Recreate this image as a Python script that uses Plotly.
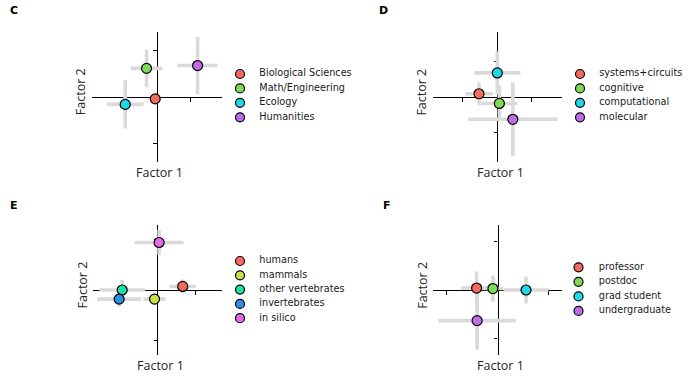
import plotly.graph_objects as go

W, H = 690, 379

# ---------------- data ----------------
c_cats = ["Biological Sciences", "Math/Engineering", "Ecology", "Humanities"]
c_x = [-0.05, -0.31, -0.95, 1.22]
c_y = [-0.04, 0.62, -0.16, 0.68]
c_xerr = [0.10, 0.47, 0.55, 0.60]
c_yerr = [0.08, 0.41, 0.52, 0.62]

d_cats = ["systems+circuits", "cognitive", "computational", "molecular"]
d_x = [-0.53, 0.06, 0.00, 0.45]
d_y = [0.09, -0.18, 0.67, -0.62]
d_xerr = [0.40, 0.52, 0.67, 1.30]
d_yerr = [0.32, 0.49, 0.60, 1.03]

e_cats = ["humans", "mammals", "other vertebrates", "invertebrates", "in silico"]
e_x = [0.67, -0.07, -0.92, -1.00, 0.05]
e_y = [0.07, -0.18, 0.00, -0.18, 0.94]
e_xerr = [0.34, 0.29, 0.60, 0.58, 0.64]
e_yerr = [0.14, 0.11, 0.20, 0.15, 0.25]

f_cats = ["professor", "postdoc", "grad student", "undergraduate"]
f_x = [-0.41, -0.09, 0.56, -0.40]
f_y = [0.04, 0.03, 0.00, -0.63]
f_xerr = [0.31, 0.20, 0.44, 0.76]
f_yerr = [0.34, 0.27, 0.28, 0.60]

colors4 = ["#f26b5e", "#7fdb57", "#1fd8e8", "#bd6ee6"]
colors5 = ["#f26b5e", "#c9e04c", "#1fe0a6", "#2f8fe6", "#e46ae8"]

panels = [
    dict(letter="C", cats=c_cats, x=c_x, y=c_y, xerr=c_xerr, yerr=c_yerr, colors=colors4,
         center=(156.9, 97.0), xhalf=1.94, yhalf=1.40, xticks=[1], yticks=[-1, 1],
         leg=(240.0, 74.0, 14.43, 19.3), letter_pos=(13.5, 10.7)),
    dict(letter="D", cats=d_cats, x=d_x, y=d_y, xerr=d_xerr, yerr=d_yerr, colors=colors4,
         center=(497.3, 97.0), xhalf=1.875, yhalf=1.80, xticks=[-1, 1], yticks=[-1, 1],
         leg=(580.0, 74.0, 14.43, 19.3), letter_pos=(383.3, 10.7)),
    dict(letter="E", cats=e_cats, x=e_x, y=e_y, xerr=e_xerr, yerr=e_yerr, colors=colors5,
         center=(157.2, 290.0), xhalf=1.70, yhalf=1.28, xticks=[-1, 1], yticks=[-1, 1],
         leg=(240.0, 261.0, 14.3, 19.3), letter_pos=(14.0, 205.7)),
    dict(letter="F", cats=f_cats, x=f_x, y=f_y, xerr=f_xerr, yerr=f_yerr, colors=colors4,
         center=(497.5, 290.0), xhalf=1.27, yhalf=1.33, xticks=[-1, 1], yticks=[-1, 1],
         leg=(578.5, 267.3, 14.55, 20.3), letter_pos=(386.7, 205.7)),
]

HALF = 64.7  # half size of each plot square, px


def px(xp):
    return xp / W


def py(yp):
    return 1 - yp / H


fig = go.Figure()
layout = dict(
    width=W, height=H, margin=dict(l=0, r=0, t=0, b=0),
    paper_bgcolor="white", plot_bgcolor="rgba(0,0,0,0)",
    showlegend=False, annotations=[],
)

for i, p in enumerate(panels):
    k = i + 1
    sfx = "" if k == 1 else str(k)
    cx, cy = p["center"]
    xd = [px(cx - HALF), px(cx + HALF)]
    yd = [py(cy + HALF), py(cy - HALF)]
    axcommon = dict(showgrid=False, zeroline=False, showticklabels=False,
                    showline=True, linecolor="black", linewidth=1.3,
                    ticks="outside", ticklen=3.5, tickwidth=1.2, tickcolor="black",
                    layer="below traces", fixedrange=True)
    layout["xaxis" + sfx] = dict(domain=xd, range=[-p["xhalf"], p["xhalf"]],
                                 anchor="free", position=py(cy),
                                 tickmode="array", tickvals=p["xticks"], **axcommon)
    layout["yaxis" + sfx] = dict(domain=yd, range=[-p["yhalf"], p["yhalf"]],
                                 anchor="free", position=px(cx),
                                 tickmode="array", tickvals=p["yticks"], **axcommon)
    fig.add_trace(go.Scatter(
        x=p["x"], y=p["y"], mode="markers",
        xaxis="x" + sfx, yaxis="y" + sfx, cliponaxis=False,
        error_x=dict(type="data", array=p["xerr"], color="#dadada", thickness=3.6, width=0),
        error_y=dict(type="data", array=p["yerr"], color="#dadada", thickness=3.6, width=0),
        marker=dict(size=10, color=p["colors"], line=dict(color="black", width=1.2)),
        hoverinfo="skip",
    ))

    # legend drawn on its own hidden axis
    lk = k + 4
    lx, ly0, sp, tdx = p["leg"]
    n = len(p["cats"])
    right = min(lx + 170, W)
    layout["xaxis%d" % lk] = dict(domain=[px(lx - 10), px(right)], range=[-10, right - lx],
                                  visible=False, fixedrange=True, anchor="y%d" % lk)
    layout["yaxis%d" % lk] = dict(domain=[py(ly0 + n * sp), py(ly0 - sp)], range=[n, -1],
                                  visible=False, fixedrange=True, anchor="x%d" % lk)
    idx = list(range(n))
    fig.add_trace(go.Scatter(
        x=[0] * n, y=idx, mode="markers", xaxis="x%d" % lk, yaxis="y%d" % lk,
        cliponaxis=False, hoverinfo="skip",
        marker=dict(size=9, color=p["colors"], line=dict(color="black", width=1.2)),
    ))
    fig.add_trace(go.Scatter(
        x=[tdx] * n, y=idx, mode="text", text=p["cats"], textposition="middle right",
        xaxis="x%d" % lk, yaxis="y%d" % lk, cliponaxis=False, hoverinfo="skip",
        textfont=dict(family="DejaVu Sans", size=9.7, color="#1a1a1a"),
    ))

    # axis titles and panel letter
    layout["annotations"].append(dict(
        text="Factor 1", x=px(cx + 3), y=py(cy + HALF + 11), xref="paper", yref="paper",
        showarrow=False, xanchor="center", yanchor="middle",
        font=dict(family="Open Sans", size=12.5, color="#1e1e28")))
    layout["annotations"].append(dict(
        text="Factor 2", x=px(cx - HALF - 11), y=py(cy - 5), xref="paper", yref="paper",
        showarrow=False, xanchor="center", yanchor="middle", textangle=-90,
        font=dict(family="Open Sans", size=12.5, color="#1e1e28")))
    lpx, lpy = p["letter_pos"]
    layout["annotations"].append(dict(
        text="<b>%s</b>" % p["letter"], x=px(lpx), y=py(lpy), xref="paper", yref="paper",
        showarrow=False, xanchor="center", yanchor="middle",
        font=dict(family="DejaVu Sans", size=11, color="black")))

fig.update_layout(**layout)
fig.write_html("out.html", config={"displayModeBar": False},
               post_script="document.body.style.margin='0px';")
